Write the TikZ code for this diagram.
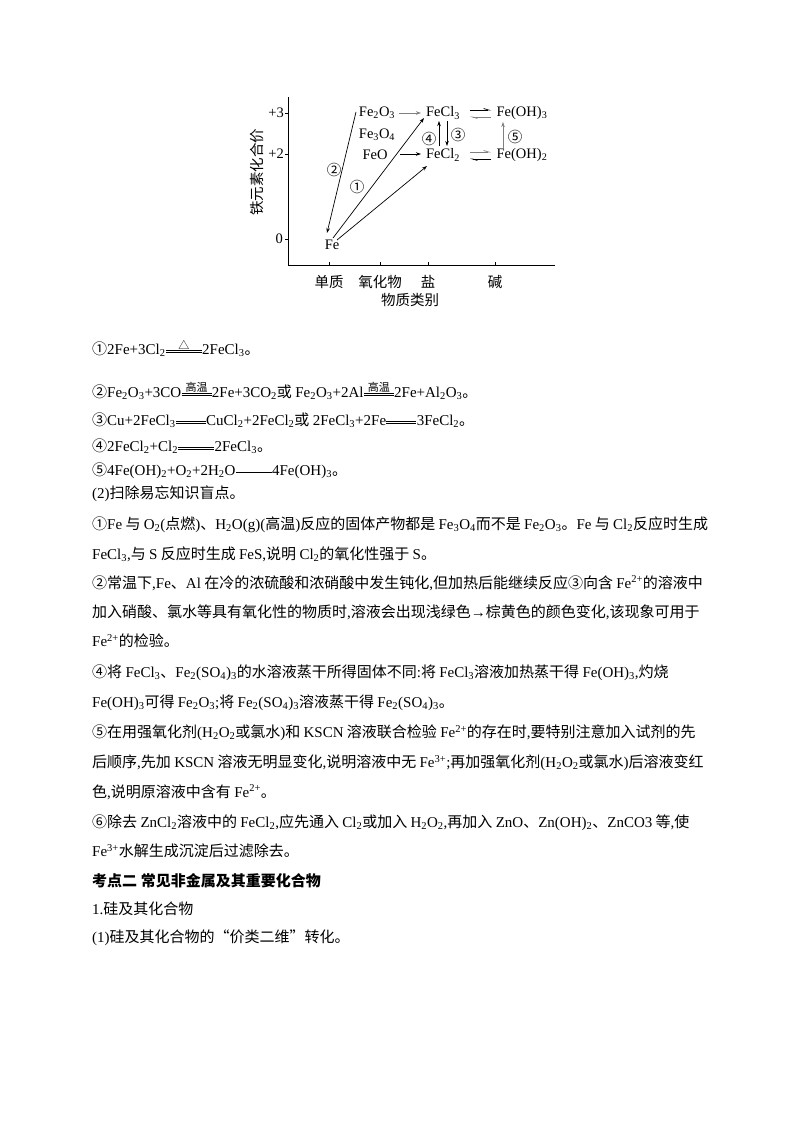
\documentclass[tikz,border=0pt]{standalone}
\usepackage{fontspec}
\usetikzlibrary{arrows.meta}
\setmainfont{Liberation Serif}
\newfontfamily\cjkf{Noto Sans CJK SC}
\makeatletter
\XeTeXinterchartokenstate=1
\newXeTeXintercharclass\CJKcls
\newXeTeXintercharclass\CJKP
\newXeTeXintercharclass\PUNC
\newcount\cc
\def\setcls#1#2#3{\cc=#1 \loop\XeTeXcharclass\cc=#3\advance\cc by 1 \ifnum\cc<#2 \repeat}
\setcls{"4E00}{"A000}{\CJKcls}
\setcls{"3000}{"3040}{\CJKP}
\setcls{"FF00}{"FFF0}{\CJKP}
\setcls{"2460}{"2474}{\CJKP}
\XeTeXcharclass"201C=\CJKP
\XeTeXcharclass"201D=\CJKP
\XeTeXcharclass"25B3=\CJKP
\XeTeXcharclass`\,=\PUNC
\XeTeXcharclass`\.=\PUNC
\XeTeXcharclass`\;=\PUNC
\XeTeXcharclass`\:=\PUNC
\XeTeXcharclass`\(=\PUNC
\XeTeXcharclass`\)=\PUNC
\XeTeXcharclass"2192=\PUNC
\XeTeXinterchartoks 0 \CJKcls = {\hskip.22em\cjkf}
\XeTeXinterchartoks 4095 \CJKcls = {\cjkf}
\XeTeXinterchartoks \CJKcls 0 = {\rmfamily\hskip.22em}
\XeTeXinterchartoks \CJKcls 4095 = {\rmfamily}
\XeTeXinterchartoks 0 \CJKP = {\cjkf}
\XeTeXinterchartoks 4095 \CJKP = {\cjkf}
\XeTeXinterchartoks \CJKP 0 = {\rmfamily}
\XeTeXinterchartoks \CJKP 4095 = {\rmfamily}
\XeTeXinterchartoks \CJKP \CJKcls = {\cjkf}
\XeTeXinterchartoks \CJKcls \CJKP = {\cjkf}
\XeTeXinterchartoks \PUNC \CJKcls = {\cjkf}
\XeTeXinterchartoks \CJKcls \PUNC = {\rmfamily}
\XeTeXinterchartoks \PUNC \CJKP = {\cjkf}
\XeTeXinterchartoks \CJKP \PUNC = {\rmfamily}
\makeatother
\newcommand\s[1]{\textsubscript{#1}}
\newcommand\p[1]{\textsuperscript{#1}}
\newcommand\dbl[2]{\tikz[baseline=-0.3ex]{\draw[line width=.6pt](0pt,0pt)--(#1,0pt) (0pt,2pt)--(#1,2pt);\node[font=\fontsize{11}{11}\selectfont,anchor=south,inner sep=0.5pt] at (#1/2,2pt){#2};}}
\newcommand\sgl[1]{\tikz[baseline=-0.3ex]{\draw[line width=.6pt](0pt,1pt)--(#1,1pt);}}
\tikzset{ln/.style={anchor=west,inner sep=0pt,font=\fontsize{15}{18}\selectfont},
 dl/.style={inner sep=1pt,font=\fontsize{14.5}{16}\selectfont},
 ar/.style={-{Stealth[length=5pt,width=3.5pt]},line width=.7pt},
 hr/.style={-{Straight Barb[left,length=5pt,width=3pt]},line width=.7pt}}
\begin{document}
\begin{tikzpicture}[x=1pt,y=-1pt]
\useasboundingbox[fill=white] (0,0) rectangle (800,1132);
% diagram
\draw[line width=.7pt] (288,97) -- (288,265) -- (555,265);
\foreach \y in {113,154,239} \draw[line width=.7pt] (285,\y) -- (288,\y);
\foreach \x in {329,380,428,495} \draw[line width=.7pt] (\x,265) -- (\x,262);
\node[dl,anchor=east] (t3) at (285,113) {+3};
\node[dl,anchor=east] (t2) at (285,154) {+2};
\node[dl,anchor=east] (t0) at (284,239) {0};
\node[dl] (c1) at (329,282) {单质};
\node[dl] (c2) at (380,282) {氧化物};
\node[dl] (c3) at (428,282) {盐};
\node[dl] (c4) at (495,282) {碱};
\node[dl] (xl) at (410,300) {物质类别};
\node[dl,rotate=90] (yl) at (257,172) {铁元素化合价};
\node[dl] (fe) at (332,245) {Fe};
\node[dl] (fe2o3) at (377,113) {Fe\s{2}O\s{3}};
\node[dl] (fe3o4) at (377,135) {Fe\s{3}O\s{4}};
\node[dl] (feo) at (375,155) {FeO};
\node[dl] (fecl3) at (443,113) {FeCl\s{3}};
\node[dl] (fecl2) at (443,155) {FeCl\s{2}};
\node[dl] (foh3) at (522,113) {Fe(OH)\s{3}};
\node[dl] (foh2) at (522,155) {Fe(OH)\s{2}};
\node[dl] (n2) at (334,170) {②};
\node[dl] (n1) at (357,187) {①};
\node[dl] (n4) at (429,139) {④};
\node[dl] (n3) at (458,135) {③};
\node[dl] (n5) at (515,137) {⑤};
\coordinate (a1) at (356,112); \coordinate (a2) at (327,233);
\draw[ar] (a1) -- (a2);
\coordinate (b1) at (333,238); \coordinate (b2) at (424,118);
\draw[ar] (b1) -- (b2);
\coordinate (d1) at (337,240); \coordinate (d2) at (427,166);
\draw[ar] (d1) -- (d2);
\draw[ar,gray] (399,113) coordinate (e1) -- (421,113) coordinate (e2);
\draw[ar] (400,154) coordinate (f1) -- (421,154) coordinate (f2);
\draw[hr] (470,110) coordinate (g1) -- (491,110) coordinate (g2);
\draw[hr,gray] (491,117) coordinate (h1) -- (470,117) coordinate (h2);
\draw[hr,gray] (470,152) coordinate (i1) -- (491,152) coordinate (i2);
\draw[hr] (491,159) coordinate (j1) -- (470,159) coordinate (j2);
\draw[ar] (439,146) coordinate (k1) -- (439,121) coordinate (k2);
\draw[ar] (447,121) coordinate (l1) -- (447,146) coordinate (l2);
\draw[ar,gray] (503,148) coordinate (m1) -- (503,122) coordinate (m2);
% text
\node[ln] (q1) at (92,348) {①2Fe+3Cl\s{2}\dbl{36pt}{△}2FeCl\s{3}。};
\node[ln] (q2) at (92,391) {②Fe\s{2}O\s{3}+3CO\dbl{30pt}{高温}2Fe+3CO\s{2}或Fe\s{2}O\s{3}+2Al\dbl{30pt}{高温}2Fe+Al\s{2}O\s{3}。};
\node[ln] (q3) at (92,420) {③Cu+2FeCl\s{3}\dbl{30pt}{}CuCl\s{2}+2FeCl\s{2}或2FeCl\s{3}+2Fe\dbl{30pt}{}3FeCl\s{2}。};
\node[ln] (q4) at (92,446) {④2FeCl\s{2}+Cl\s{2}\dbl{36pt}{}2FeCl\s{3}。};
\node[ln] (q5) at (92,471) {⑤4Fe(OH)\s{2}+O\s{2}+2H\s{2}O\sgl{36pt}4Fe(OH)\s{3}。};
\node[ln] (r0) at (92,494) {(2)扫除易忘知识盲点。};
\node[ln] (r1) at (92,525) {①Fe与O\s{2}(点燃)、H\s{2}O(g)(高温)反应的固体产物都是Fe\s{3}O\s{4}而不是Fe\s{2}O\s{3}。Fe与Cl\s{2}反应时生成};
\node[ln] (r2) at (92,554) {FeCl\s{3},与S反应时生成FeS,说明Cl\s{2}的氧化性强于S。};
\node[ln] (r3) at (92,583) {②常温下,Fe、Al在冷的浓硫酸和浓硝酸中发生钝化,但加热后能继续反应③向含Fe\p{2+}的溶液中};
\node[ln] (r4) at (92,612) {加入硝酸、氯水等具有氧化性的物质时,溶液会出现浅绿色→棕黄色的颜色变化,该现象可用于};
\node[ln] (r5) at (92,641) {Fe\p{2+}的检验。};
\node[ln] (r6) at (92,673) {④将FeCl\s{3}、Fe\s{2}(SO\s{4})\s{3}的水溶液蒸干所得固体不同:将FeCl\s{3}溶液加热蒸干得Fe(OH)\s{3},灼烧};
\node[ln] (r7) at (92,703) {Fe(OH)\s{3}可得Fe\s{2}O\s{3};将Fe\s{2}(SO\s{4})\s{3}溶液蒸干得Fe\s{2}(SO\s{4})\s{3}。};
\node[ln] (r8) at (92,733) {⑤在用强氧化剂(H\s{2}O\s{2}或氯水)和KSCN溶液联合检验Fe\p{2+}的存在时,要特别注意加入试剂的先};
\node[ln] (r9) at (92,763) {后顺序,先加KSCN溶液无明显变化,说明溶液中无Fe\p{3+};再加强氧化剂(H\s{2}O\s{2}或氯水)后溶液变红};
\node[ln] (r10) at (92,792) {色,说明原溶液中含有Fe\p{2+}。};
\node[ln] (r11) at (92,823) {⑥除去ZnCl\s{2}溶液中的FeCl\s{2},应先通入Cl\s{2}或加入H\s{2}O\s{2},再加入ZnO、Zn(OH)\s{2}、ZnCO3等,使};
\node[ln] (r12) at (92,851) {Fe\p{3+}水解生成沉淀后过滤除去。};
\node[ln,font=\fontsize{15}{18}\selectfont\bfseries] (r13) at (92,881) {考点二 常见非金属及其重要化合物};
\node[ln] (r14) at (92,909) {1.硅及其化合物};
\node[ln] (r15) at (92,938) {(1)硅及其化合物的“价类二维”转化。};
\end{tikzpicture}
\end{document}
